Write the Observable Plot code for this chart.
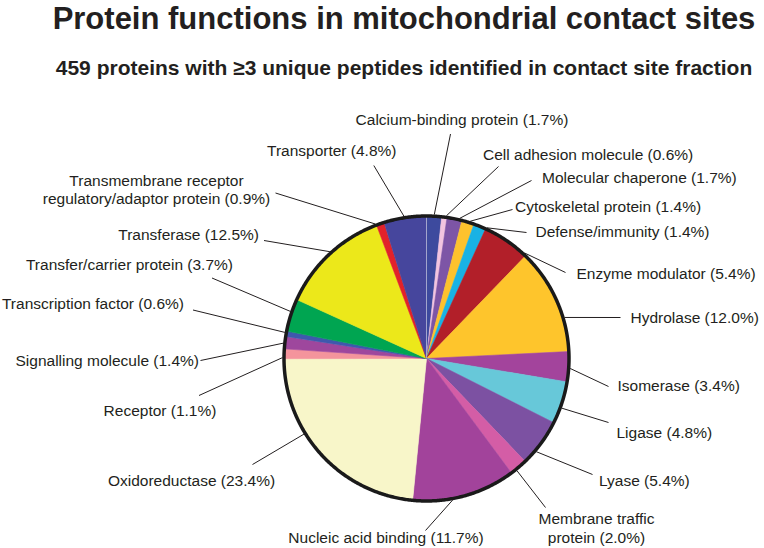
<!DOCTYPE html>
<html>
<head>
<meta charset="utf-8">
<script src="https://cdn.jsdelivr.net/npm/d3@7"></script>
<script src="https://cdn.jsdelivr.net/npm/@observablehq/plot@0.6"></script>
<style>
  html, body { margin: 0; padding: 0; background: #fff; }
  #head { position: relative; width: 764px; height: 88px; }
  #head div { position: absolute; left: 44px; width: 720px; text-align: center; white-space: nowrap;
              font-family: "Liberation Sans", Arial, Helvetica, sans-serif; font-weight: bold; color: #231f20; }
  #title { top: 2px; font-size: 31px; line-height: 34px; }
  #subtitle { top: 57px; font-size: 21px; line-height: 21px; }
</style>
</head>
<body>
<div id="head">
  <div id="title">Protein functions in mitochondrial contact sites</div>
  <div id="subtitle">459 proteins with ≥3 unique peptides identified in contact site fraction</div>
</div>
<div id="chart"></div>
<script>
// ---- data ----
const categories = [
  "Calcium-binding protein", "Cell adhesion molecule", "Molecular chaperone", "Cytoskeletal protein",
  "Defense/immunity", "Enzyme modulator", "Hydrolase", "Isomerase", "Ligase", "Lyase",
  "Membrane traffic protein", "Nucleic acid binding", "Oxidoreductase", "Receptor",
  "Signalling molecule", "Transcription factor", "Transfer/carrier protein", "Transferase",
  "Transmembrane receptor regulatory/adaptor protein", "Transporter"
];
const percents = [1.7, 0.6, 1.7, 1.4, 1.4, 5.4, 12.0, 3.4, 4.8, 5.4, 2.0, 11.7, 23.4, 1.1, 1.4, 0.6, 3.7, 12.5, 0.9, 4.8];

// ---- styles ----
const sliceColors = [
  "#3d4a9e", "#f2c4e0", "#7d55a6", "#fdc22d", "#19b2e4", "#b21f29", "#fec52c", "#a3449c", "#67c8d9", "#7c51a2",
  "#d45da6", "#a2439b", "#f8f6c9", "#f4949c", "#9e479d", "#3f58ad", "#00a551", "#ece81a", "#e1222a", "#46469d"
];

// ---- label layout (page pixels; baseline of last line), leader rim position in % of circle ----
const labelLayout = [
  {anchor: "middle", tx: 461.5, ty: 124,   lx: 450,   ly: 133.5, rim: 0.86, br: 0},
  {anchor: "start",  tx: 482.5, ty: 159,   lx: 498,   ly: 166,   rim: 2.2,  br: 0},
  {anchor: "start",  tx: 541.5, ty: 182.5, lx: 531,   ly: 180,   rim: 3.7,  br: 0},
  {anchor: "start",  tx: 514.5, ty: 211.5, lx: 512,   ly: 209,   rim: 4.9,  br: 0},
  {anchor: "start",  tx: 535,   ty: 236.5, lx: 526,   ly: 232,   rim: 6.9,  br: 0},
  {anchor: "start",  tx: 576,   ty: 278.5, lx: 565,   ly: 272,   rim: 11.9, br: 0},
  {anchor: "start",  tx: 630,   ty: 322,   lx: 620,   ly: 317,   rim: 20.4, br: 0},
  {anchor: "start",  tx: 617,   ty: 390,   lx: 608,   ly: 386,   rim: 26.1, br: 0},
  {anchor: "start",  tx: 616,   ty: 437,   lx: 608,   ly: 422,   rim: 30.6, br: 0},
  {anchor: "start",  tx: 598.5, ty: 485,   lx: 592,   ly: 474,   rim: 36.2, br: 0},
  {anchor: "middle", tx: 596,   ty: 542,   lx: 545,   ly: 507,   rim: 39.2, br: 2},
  {anchor: "middle", tx: 385.5, ty: 542,   lx: 425,   ly: 530,   rim: 47.1, br: 0},
  {anchor: "middle", tx: 191,   ty: 485,   lx: 252,   ly: 464,   rim: 66.2, br: 0},
  {anchor: "middle", tx: 159.5, ty: 415,   lx: 198.5, ly: 395,   rim: 75.1, br: 0},
  {anchor: "end",    tx: 198.5, ty: 365,   lx: 200,   ly: 360,   rim: 76.7, br: 0},
  {anchor: "end",    tx: 183.5, ty: 308.5, lx: 192.5, ly: 309.5, rim: 77.9, br: 0},
  {anchor: "end",    tx: 232.5, ty: 269.5, lx: 211.5, ly: 277.5, rim: 80.3, br: 0},
  {anchor: "end",    tx: 258.5, ty: 239.5, lx: 263.5, ly: 240,   rim: 88.3, br: 0},
  {anchor: "middle", tx: 156,   ty: 203.5, lx: 275,   ly: 192.5, rim: 94.2, br: 2},
  {anchor: "start",  tx: 266.5, ty: 155,   lx: 373.3, ly: 165,   rim: 97.5, br: 0}
];

// ---- geometry ----
const W = 764, H = 460, TOP = 88;
const cx = 426, cy = 358 - TOP, R = 142.5;
const pt = (a, r) => ({x: cx + r * Math.sin(a), y: cy - r * Math.cos(a)});

const rows = categories.map((name, i) => ({name, value: percents[i], color: sliceColors[i], layout: labelLayout[i]}));
const arcs = d3.pie().sort(null).value(d => d.value)(rows);

// polygon vertices of each slice, derived from the pie angles
const slicePts = [];
for (const a of arcs) {
  const n = Math.max(2, Math.ceil((a.endAngle - a.startAngle) / (Math.PI / 360)));
  slicePts.push({name: a.data.name, color: a.data.color, x: cx, y: cy});
  for (let k = 0; k <= n; k++) {
    const ang = a.startAngle + (a.endAngle - a.startAngle) * k / n;
    slicePts.push({name: a.data.name, color: a.data.color, ...pt(ang, R)});
  }
}
const ringPts = d3.range(0, 721).map(k => pt(k * Math.PI / 360, R));

const labels = rows.map(d => {
  const L = d.layout;
  const full = `${d.name} (${d.value.toFixed(1)}%)`;
  let text = full;
  if (L.br) {
    const w = full.split(" ");
    text = w.slice(0, L.br).join(" ") + "\n" + w.slice(L.br).join(" ");
  }
  const rp = pt(L.rim / 100 * 2 * Math.PI, R + 1.5);
  return {text, anchor: L.anchor, tx: L.tx, ty: L.ty - TOP, lx: L.lx, ly: L.ly - TOP, rx: rp.x, ry: rp.y};
});

const font = "'Liberation Sans', Arial, Helvetica, sans-serif";
const textMark = (anchor) => Plot.text(labels.filter(d => d.anchor === anchor), {
  x: "tx", y: "ty", text: "text", textAnchor: anchor, lineAnchor: "bottom", lineHeight: 1.19,
  fontSize: 15.5, fontFamily: font, fill: "#231f20"
});

const chart = Plot.plot({
  width: W, height: H, margin: 0,
  style: {background: "#fff", overflow: "visible"},
  x: {domain: [0, W], range: [0, W], axis: null},
  y: {domain: [0, H], range: [0, H], axis: null},
  marks: [
    Plot.line(slicePts, {x: "x", y: "y", z: "name", fill: "color", stroke: "color", strokeWidth: 0.6, curve: "linear-closed"}),
    Plot.link([arcs[0]], {x1: () => cx, y1: () => cy, x2: d => pt(d.startAngle, R).x, y2: d => pt(d.startAngle, R).y, stroke: "#b9bbd8", strokeWidth: 0.8}),
    Plot.line(ringPts, {x: "x", y: "y", stroke: "#1a1a1a", strokeWidth: 3.5, curve: "linear-closed"}),
    Plot.link(labels, {x1: "rx", y1: "ry", x2: "lx", y2: "ly", stroke: "#231f20", strokeWidth: 1}),
    textMark("start"), textMark("middle"), textMark("end")
  ]
});
document.getElementById("chart").appendChild(chart);
</script>
</body>
</html>
